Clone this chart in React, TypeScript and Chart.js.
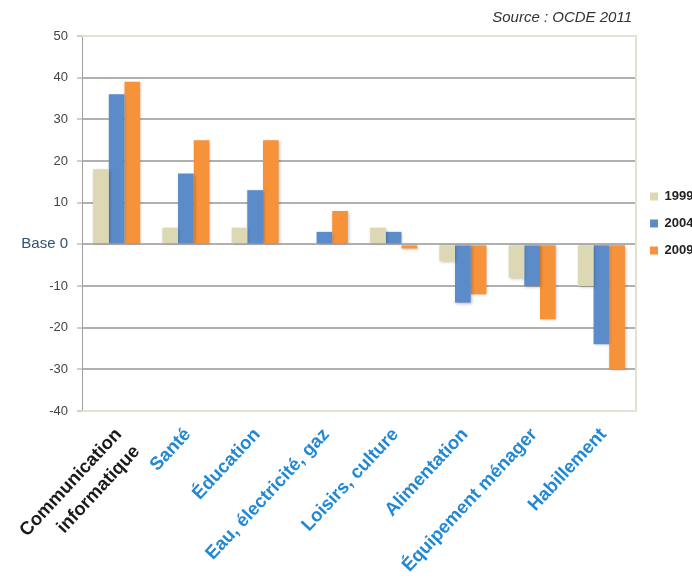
import { useEffect, useRef } from 'react';
import { Chart, registerables } from 'chart.js';

Chart.register(...registerables);

const CATEGORIES: (string | string[])[] = [
  ['Communication', 'informatique'],
  'Santé',
  'Éducation',
  'Eau, électricité, gaz',
  'Loisirs, culture',
  'Alimentation',
  'Équipement ménager',
  'Habillement',
];
const SERIES_NAMES = ['1999', '2004', '2009'];
const VALUES_1999 = [18, 4, 4, 0, 4, -4, -8, -10];
const VALUES_2004 = [36, 17, 13, 3, 3, -14, -10, -24];
const VALUES_2009 = [39, 25, 25, 8, -1, -12, -18, -30];
const Y_MIN = -40;
const Y_MAX = 50;
const Y_STEP = 10;
const ZERO_LABEL = 'Base 0';
const SOURCE_TEXT = 'Source : OCDE 2011';

const COLORS = ['#dcd8b3', '#5b8cc9', '#f6923a'];
const FONT = "'Liberation Sans', Arial, Helvetica, sans-serif";
const FRAME = '#e3e1d0';

const framePlugin = {
  id: 'frame',
  beforeDatasetsDraw(chart: any) {
    const { ctx, chartArea: a } = chart;
    ctx.save();
    ctx.strokeStyle = FRAME;
    ctx.lineWidth = 2;
    ctx.beginPath();
    ctx.moveTo(a.left, a.top);
    ctx.lineTo(a.right, a.top);
    ctx.lineTo(a.right, a.bottom);
    ctx.lineTo(a.left, a.bottom);
    ctx.stroke();
    ctx.restore();
    ctx.save();
    ctx.shadowColor = 'rgba(0,0,0,0.25)';
    ctx.shadowBlur = 3;
    ctx.shadowOffsetX = 1;
    ctx.shadowOffsetY = 1;
  },
  afterDatasetsDraw(chart: any) {
    chart.ctx.restore();
  },
  afterDraw(chart: any) {
    const { ctx, chartArea: a } = chart;
    ctx.save();
    ctx.font = `italic 15px ${FONT}`;
    ctx.fillStyle = '#333';
    ctx.textAlign = 'right';
    ctx.textBaseline = 'middle';
    ctx.fillText(SOURCE_TEXT, a.right - 4, a.top - 18);
    ctx.restore();
  },
};

export default function App() {
  const ref = useRef<HTMLCanvasElement>(null);
  useEffect(() => {
    if (!ref.current) return;
    const series = [VALUES_1999, VALUES_2004, VALUES_2009];
    const chart = new Chart(ref.current, {
      type: 'bar',
      data: {
        labels: CATEGORIES,
        datasets: series.map((d, i) => ({
          label: SERIES_NAMES[i],
          data: d,
          backgroundColor: COLORS[i],
          borderWidth: 0,
          categoryPercentage: 0.68,
          barPercentage: 1,
        })),
      },
      options: {
        animation: false,
        responsive: true,
        maintainAspectRatio: false,
        layout: { padding: { top: 36, right: 0, bottom: 0, left: 0 } },
        plugins: {
          tooltip: { enabled: false },
          legend: {
            position: 'right',
            fullSize: false,
            maxWidth: 56,
            labels: {
              boxWidth: 8,
              boxHeight: 8,
              padding: 14,
              color: '#222',
              font: { family: FONT, size: 13, weight: 'bold' },
            },
          },
        },
        scales: {
          x: {
            grid: { display: false },
            border: { display: false },
            ticks: {
              autoSkip: false,
              maxRotation: 47,
              minRotation: 47,
              padding: 4,
              labelOffset: 2,
              font: { family: FONT, size: 18.5, weight: 'bold', lineHeight: 1.35 },
              color: (c: any) => (c.index === 0 ? '#1a1a1a' : '#2188d6'),
            },
            afterFit: (s: any) => {
              s.height = 175;
            },
          },
          y: {
            min: Y_MIN,
            max: Y_MAX,
            grid: {
              color: (c: any) =>
                c.tick && (c.tick.value === Y_MAX || c.tick.value === Y_MIN) ? FRAME : '#b0b0b0',
              lineWidth: 2,
              tickLength: 5,
              tickColor: '#a0a0a0',
              tickWidth: 1,
            },
            border: { display: true, color: '#a0a0a0', width: 1 },
            ticks: {
              stepSize: Y_STEP,
              padding: 9,
              callback: (v: any) => (v === 0 ? ZERO_LABEL : String(v)),
              font: (c: any) =>
                c.tick && c.tick.value === 0
                  ? { family: FONT, size: 15 }
                  : { family: FONT, size: 13 },
              color: (c: any) => (c.tick && c.tick.value === 0 ? '#2d5470' : '#444'),
            },
            afterFit: (s: any) => {
              s.width = 82;
            },
          },
        },
      },
      plugins: [framePlugin],
    } as any);
    return () => chart.destroy();
  }, []);
  return (
    <div style={{ position: 'fixed', left: 0, top: 0, width: 692, height: 586, background: '#fff' }}>
      <canvas ref={ref} />
    </div>
  );
}
